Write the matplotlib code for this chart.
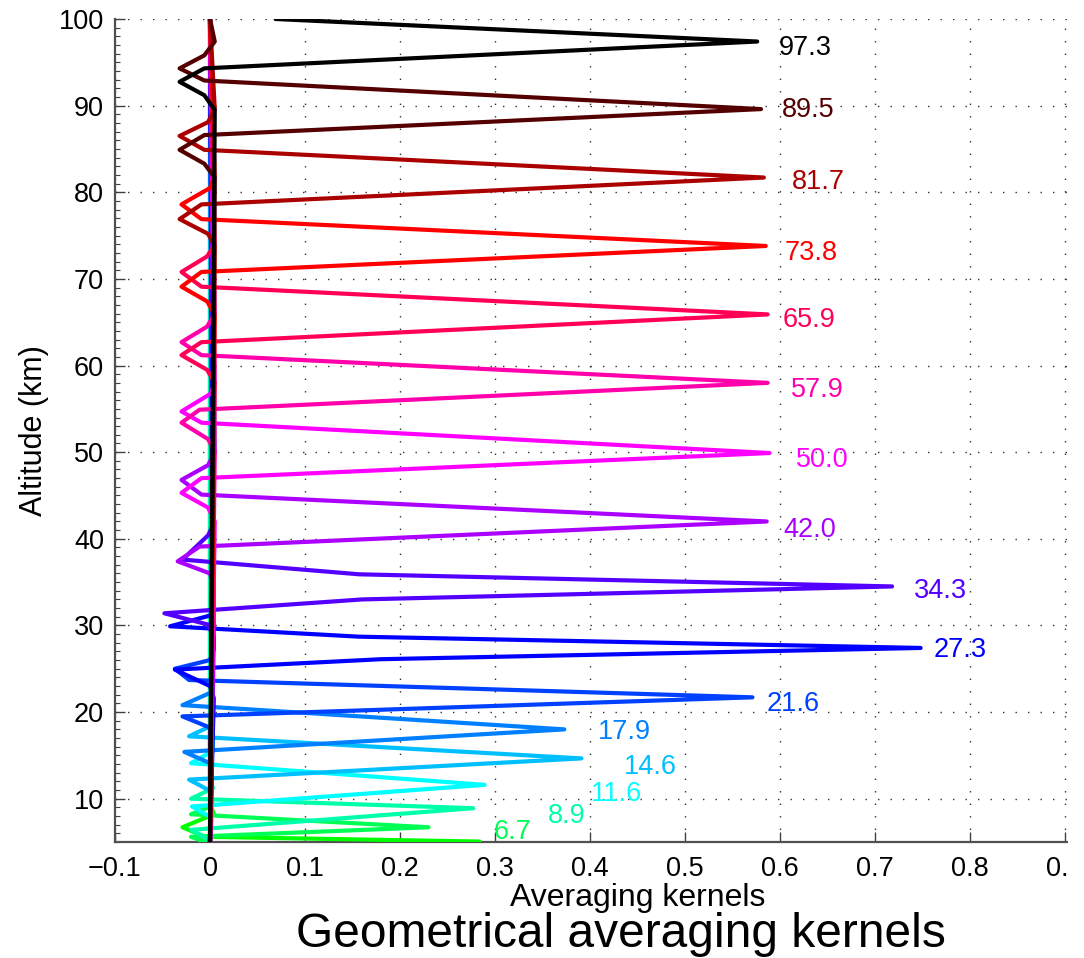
import matplotlib
matplotlib.use("Agg")
import matplotlib.pyplot as plt
from matplotlib.patches import Rectangle

plt.rcParams["font.family"] = ["Liberation Sans", "DejaVu Sans"]

# ---------------------------------------------------------------------------
# Averaging kernels: altitude nodes (km) and kernel values, one pair per row
# ---------------------------------------------------------------------------
z_050 = [100, 9.5, 8.2, 6.7, 5.6, 5.05]
ak_050 = [0, 0, 0.004, -0.029, -0.005, 0.284]

z_067 = [100, 10.5, 9.2, 8.2, 6.7, 5.6, 5.0]
ak_067 = [0, 0, 0.003, -0.020, 0.230, -0.020, -0.005]

z_089 = [100, 12.5, 11.2, 10.0, 8.9, 6.4, 5.2]
ak_089 = [0, 0, 0.003, -0.020, 0.277, -0.020, 0.0]

z_116 = [100, 15.5, 14.1, 11.6, 9.1, 7.8, 5]
ak_116 = [0, 0.003, -0.020, 0.289, -0.019, 0.002, 0]

z_146 = [100, 18.5, 17.2, 14.65, 12.2, 10.8, 5]
ak_146 = [0, 0.003, -0.022, 0.391, -0.022, 0.002, 0]

z_179 = [100, 22.3, 20.8, 18.0, 15.4, 14.0, 5]
ak_179 = [0, 0.002, -0.029, 0.373, -0.027, 0.002, 0]

z_216 = [100, 27.3, 26.0, 25.0, 23.7, 21.7, 19.5, 18.2, 5]
ak_216 = [0, 0.004, 0.0, -0.037, -0.022, 0.571, -0.029, 0.0, 0]

z_273 = [100, 32.5, 31.2, 29.9, 28.7, 27.4, 26.1, 24.9, 23.0, 21.6, 5]
ak_273 = [0, 0.003, 0.002, -0.042, 0.157, 0.748, 0.180, -0.037, 0.0, 0.004, 0]

z_343 = [100, 41.8, 40.4, 37.6, 35.9, 34.5, 33.0, 31.4, 30.1, 28.6, 5]
ak_343 = [0, 0.004, -0.002, -0.029, 0.157, 0.718, 0.160, -0.048, -0.002, 0.004, 0]

z_420 = [100, 50.0, 48.5, 46.8, 45.1, 42.0, 39.1, 37.4, 36.0, 34.4, 5]
ak_420 = [0, 0.005, -0.002, -0.030, -0.009, 0.586, -0.011, -0.034, 0.0, 0.004, 0]

z_500 = [100, 58.0, 56.7, 54.7, 53.4, 49.9, 47.0, 45.3, 43.6, 42.0, 5]
ak_500 = [0, 0.005, 0.0, -0.030, -0.009, 0.589, -0.009, -0.030, -0.002, 0.005, 0]

z_579 = [100, 66.0, 64.5, 62.7, 61.2, 58.0, 54.9, 53.4, 51.5, 50.0, 5]
ak_579 = [0, 0.005, -0.003, -0.030, -0.009, 0.587, -0.011, -0.030, -0.002, 0.005, 0]

z_659 = [100, 74.0, 72.6, 70.8, 69.1, 65.9, 62.7, 61.2, 59.5, 58.0, 5]
ak_659 = [0, 0.005, -0.003, -0.030, -0.009, 0.587, -0.009, -0.030, -0.003, 0.005, 0]

z_738 = [100, 81.8, 80.5, 78.6, 76.9, 73.8, 70.8, 69.1, 67.4, 65.9, 5]
ak_738 = [0, 0.005, 0.0, -0.030, -0.009, 0.585, -0.009, -0.030, -0.003, 0.005, 0]

z_817 = [100, 89.6, 88.1, 86.5, 84.9, 81.7, 78.6, 76.9, 75.2, 73.8, 5]
ak_817 = [0, 0.005, -0.002, -0.032, -0.006, 0.583, -0.009, -0.032, -0.002, 0.005, 0]

z_895 = [100, 97.4, 95.8, 94.3, 92.9, 89.6, 86.6, 84.9, 83.3, 81.7, 5]
ak_895 = [0, 0.005, -0.006, -0.032, -0.006, 0.580, -0.006, -0.032, -0.006, 0.005, 0]

z_973 = [100, 97.4, 94.3, 92.75, 91.2, 89.5, 5]
ak_973 = [0.069, 0.576, -0.006, -0.032, -0.006, 0.005, 0]

# Line colours, bottom to top (green -> cyan -> blue -> magenta -> red -> black)
colors = [
    (0.00, 1.00, 0.00), (0.00, 1.00, 0.33), (0.00, 1.00, 0.67), (0.00, 1.00, 1.00),
    (0.00, 0.75, 1.00), (0.00, 0.50, 1.00), (0.00, 0.25, 1.00), (0.00, 0.00, 1.00),
    (0.33, 0.00, 1.00), (0.67, 0.00, 1.00), (1.00, 0.00, 1.00), (1.00, 0.00, 0.67),
    (1.00, 0.00, 0.33), (1.00, 0.00, 0.00), (0.67, 0.00, 0.00), (0.33, 0.00, 0.00),
    (0.00, 0.00, 0.00),
]

kernels = [
    (z_050, ak_050), (z_067, ak_067), (z_089, ak_089), (z_116, ak_116),
    (z_146, ak_146), (z_179, ak_179), (z_216, ak_216), (z_273, ak_273),
    (z_343, ak_343), (z_420, ak_420), (z_500, ak_500), (z_579, ak_579),
    (z_659, ak_659), (z_738, ak_738), (z_817, ak_817), (z_895, ak_895),
    (z_973, ak_973),
]

# Tangent-altitude annotations: text, anchor x, anchor y (data units)
tangent_text = ["6.7", "8.9", "11.6", "14.6", "17.9", "21.6", "27.3", "34.3",
                "42.0", "50.0", "57.9", "65.9", "73.8", "81.7", "89.5", "97.3"]
tangent_x = [0.299, 0.356, 0.401, 0.436, 0.408, 0.586, 0.762, 0.741,
             0.604, 0.617, 0.612, 0.603, 0.605, 0.612, 0.602, 0.599]
tangent_y = [6.15, 8.02, 10.54, 13.69, 17.64, 20.93, 27.16, 33.97,
             41.0, 49.1, 57.17, 65.25, 72.95, 81.22, 89.50, 96.62]
tangent_color_index = list(range(1, 17))

xtick_values = [-0.1, 0, 0.1, 0.2, 0.3, 0.4, 0.5, 0.6, 0.7, 0.8, 0.9, 1.0]
xtick_labels = ["\u22120.1", "0", "0.1", "0.2", "0.3", "0.4", "0.5", "0.6",
                "0.7", "0.8", "0.9", "1"]
ytick_values = [10, 20, 30, 40, 50, 60, 70, 80, 90, 100]

W, H = 1084, 958
fig = plt.figure(figsize=(W / 100, H / 100), dpi=100)
ax_left, ax_right, ax_top, ax_bottom = 115, 1160, 19, 842
ax = fig.add_axes([ax_left / W, 1 - ax_bottom / H,
                   (ax_right - ax_left) / W, (ax_bottom - ax_top) / H])

for (z, ak), c in zip(kernels, colors):
    ax.plot(ak, z, color=c, lw=3.0, solid_joinstyle="round",
            solid_capstyle="round", zorder=3)

for txt, tx, ty, ci in zip(tangent_text, tangent_x, tangent_y, tangent_color_index):
    ax.text(tx, ty, txt, color=colors[ci], fontsize=19.5, ha="left",
            va="center", zorder=4)

ax.set_xlim(-0.1, 1.0)
ax.set_ylim(5, 100)
ax.set_xticks(xtick_values)
ax.set_xticklabels(xtick_labels)
ax.set_yticks(ytick_values)
ax.set_yticks(range(5, 101), minor=True)
ax.tick_params(axis="both", which="major", direction="in", length=7,
               width=1.0, color="#404040", labelsize=19.5, pad=8)
ax.tick_params(axis="y", which="minor", direction="in", length=3.5,
               width=0.8, color="#404040")
ax.tick_params(axis="x", pad=10)

ax.grid(True, which="major", linestyle=(0, (1, 8)), linewidth=1.0,
        color="#303030", zorder=1)
for side in ("top", "right"):
    ax.spines[side].set_visible(False)
for side in ("left", "bottom"):
    ax.spines[side].set_color("#505050")
    ax.spines[side].set_linewidth(1.6)

ax.set_xlabel("Averaging kernels", fontsize=23)
ax.xaxis.label.set_va("baseline")
ax.xaxis.set_label_coords(0.5, -(906 - ax_bottom) / (ax_bottom - ax_top))
ax.set_ylabel("Altitude (km)", fontsize=22)
ax.yaxis.label.set_va("center")
ax.yaxis.set_label_coords((34 - ax_left) / (ax_right - ax_left), 0.5)

fig.text(621 / W, 1 - 947 / H, "Geometrical averaging kernels",
         ha="center", va="baseline", fontsize=34.5)

# Right-hand margin of the exported frame is blank
fig.patches.append(Rectangle((1068 / W, 0), (W - 1068) / W, 1,
                             transform=fig.transFigure, facecolor="white",
                             edgecolor="none", zorder=10))

fig.savefig("out.png", dpi=100)
